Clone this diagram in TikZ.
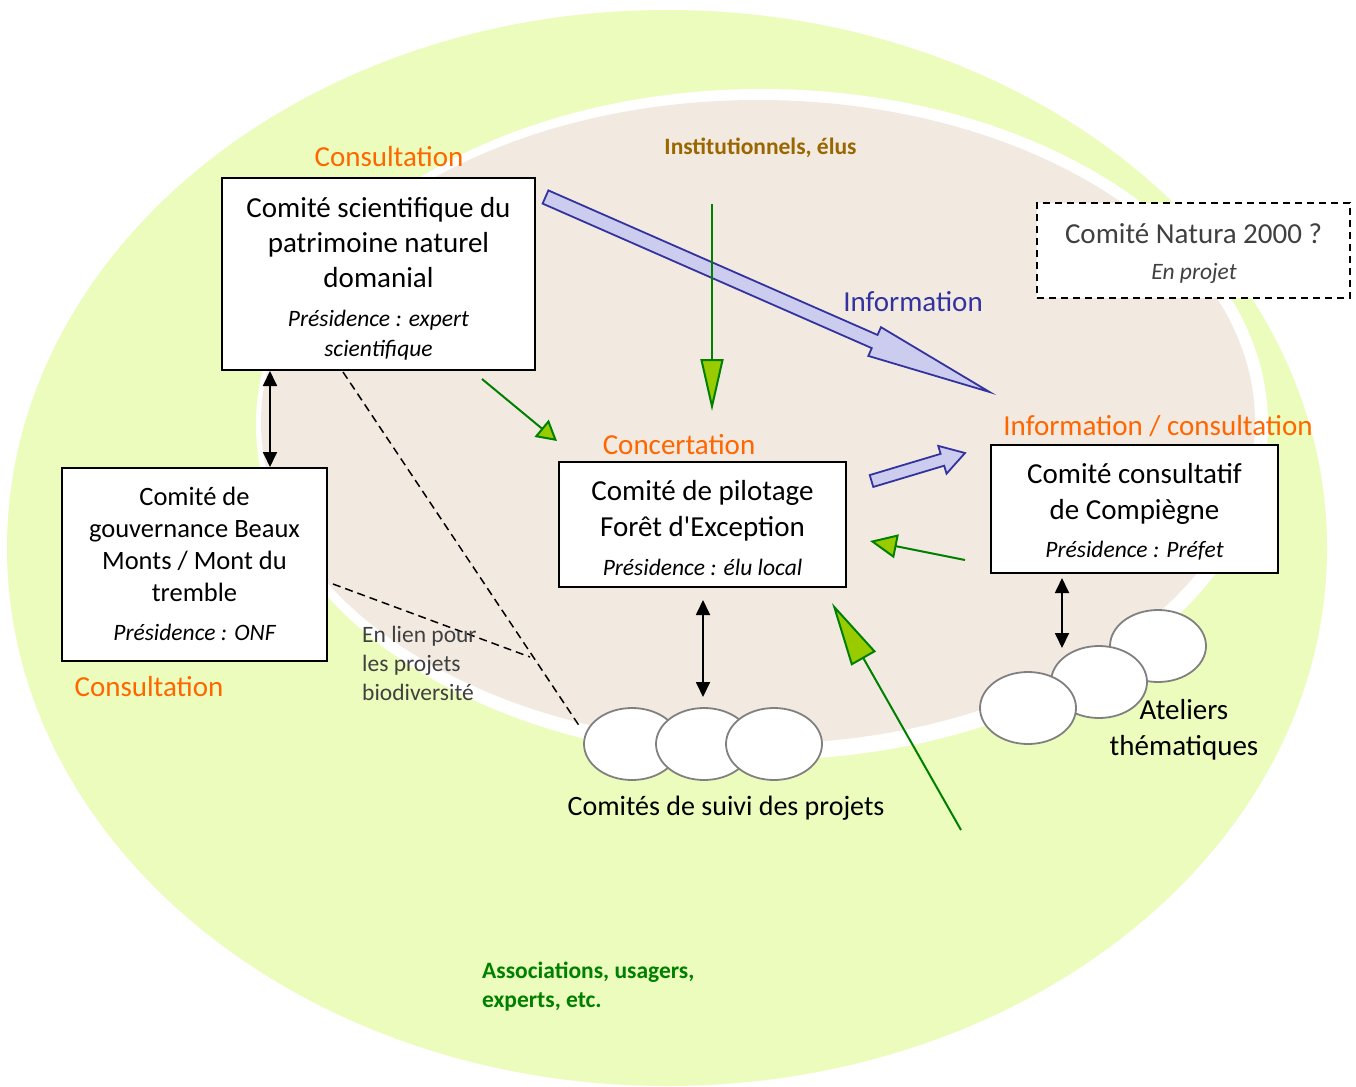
\documentclass[tikz,border=0pt]{standalone}
\usepackage{fontspec}
\setmainfont{Carlito}
\usetikzlibrary{arrows.meta,shapes.geometric}
\definecolor{limebg}{RGB}{236,252,188}
\definecolor{beigebg}{RGB}{242,234,225}
\definecolor{orangetxt}{RGB}{255,102,0}
\definecolor{bluefill}{RGB}{204,204,238}
\definecolor{blueline}{RGB}{51,51,160}
\definecolor{browntxt}{RGB}{153,102,0}
\definecolor{greentxt}{RGB}{0,128,0}
\definecolor{greenline}{RGB}{0,128,0}
\definecolor{headfill}{RGB}{153,204,0}
\definecolor{graytxt}{RGB}{64,64,64}
\definecolor{ellborder}{RGB}{128,128,128}
\begin{document}
\begin{tikzpicture}[x=1pt,y=-1pt,
  box/.style={draw=black,line width=1.8pt,fill=white,inner sep=0pt,rectangle},
  dbox/.style={draw=black,line width=1.8pt,fill=white,inner sep=0pt,rectangle,dash pattern=on 7pt off 5pt},
  txt/.style={anchor=base,inner sep=0pt},
  big/.style={txt,font=\fontsize{29}{35}\selectfont},
  mid/.style={txt,font=\fontsize{26.5}{32}\selectfont},
  ita/.style={txt,font=\fontsize{23.5}{29}\selectfont\itshape},
  lab/.style={txt,font=\fontsize{29}{35}\selectfont,text=orangetxt},
  twoway/.style={line width=1.8pt,{Triangle[length=15pt,width=14pt]}-{Triangle[length=15pt,width=14pt]}},
  greenarr/.style={draw=greenline,line width=2pt},
  blockarr/.style={draw=blueline,fill=bluefill,line width=1.8pt,line join=miter},
  ell/.style={ellipse,draw=ellborder,fill=white,line width=1.8pt,minimum width=96pt,minimum height=72pt,inner sep=0pt},
  dashline/.style={line width=1.5pt,dash pattern=on 8pt off 5pt}
]
% background and bounding box
\path[fill=white] (0,0) rectangle (1356,1086);
\useasboundingbox (0,0) rectangle (1356,1086);
% zones
\fill[limebg] (667,548) ellipse [x radius=660, y radius=538];
\fill[white] (762,424.5) ellipse [x radius=506, y radius=335.5];
\fill[beigebg] (758,422) ellipse [x radius=497, y radius=322];

% dashed links
\coordinate (d1a) at (343,372);
\coordinate (d1b) at (580,727);
\coordinate (d2a) at (333,584);
\coordinate (d2b) at (530,657);
\draw[dashline] (d1a) -- (d1b);
\draw[dashline] (d2a) -- (d2b);

% big blue "Information" arrow
\begin{scope}[shift={(545.5,197)},rotate=-23.71]
\draw[blockarr] (0,-7.2) -- (359.5,-7.2) -- (359.5,-15.7) -- (484.9,0) -- (359.5,15.7) -- (359.5,7.2) -- (0,7.2) -- cycle;
\end{scope}
% small blue arrow
\begin{scope}[shift={(871.5,481)},rotate=16.67]
\draw[blockarr] (0,-6.2) -- (74,-6.2) -- (74,-14.5) -- (97.6,0) -- (74,14.5) -- (74,6.2) -- (0,6.2) -- cycle;
\end{scope}

% green arrows
\coordinate (g1a) at (712,204);
\coordinate (g1b) at (712,411);
\coordinate (g2a) at (482,379);
\coordinate (g2b) at (557,441);
\coordinate (g3a) at (965,560);
\coordinate (g3b) at (870,541);
\coordinate (g4a) at (961,830);
\coordinate (g4b) at (832,603);
\draw[greenarr,-{Triangle[length=52pt,width=23pt,fill=headfill]}] (g1a) -- (g1b);
\draw[greenarr,-{Triangle[length=20pt,width=22pt,fill=headfill]}] (g2a) -- (g2b);
\draw[greenarr,-{Triangle[length=27pt,width=24pt,fill=headfill]}] (g3a) -- (g3b);
\draw[greenarr,-{Triangle[length=64pt,width=28pt,fill=headfill]}] (g4a) -- (g4b);

% boxes
\node (sci) [box,minimum width=313pt,minimum height=192pt] at (378.5,274) {};
\node (gov) [box,minimum width=265pt,minimum height=193pt] at (194.5,564.5) {};
\node (pil) [box,minimum width=287pt,minimum height=125pt] at (702.5,524.5) {};
\node (cons) [box,minimum width=287pt,minimum height=128pt] at (1134.5,509) {};
\node (nat) [dbox,minimum width=313pt,minimum height=95pt] at (1193.5,250.5) {};

% black two-way arrows
\coordinate (b1a) at (270,371);
\coordinate (b1b) at (270,467);
\coordinate (b2a) at (703,600);
\coordinate (b2b) at (703,697);
\coordinate (b3a) at (1062,578);
\coordinate (b3b) at (1062,648);
\draw[twoway] (b1a) -- (b1b);
\draw[twoway] (b2a) -- (b2b);
\draw[twoway] (b3a) -- (b3b);

% ellipses: comités de suivi
\node (s1) [ell] at (632,744) {};
\node (s2) [ell] at (704,744) {};
\node (s3) [ell] at (774,744) {};
% ellipses: ateliers
\node (e1) [ell] at (1158,646) {};
\node (e2) [ell] at (1099,682) {};
\node (e3) [ell] at (1028,708) {};

% box texts
\node (sci1) [big] at (378.5,217) {Comité scientifique du};
\node (sci2) [big] at (378.5,252) {patrimoine naturel};
\node (sci3) [big] at (378.5,287) {domanial};
\node (sci4) [ita] at (378.5,326) {Présidence : expert};
\node (sci5) [ita] at (378.5,356.5) {scientifique};

\node (gov1) [mid] at (194.5,505) {Comité de};
\node (gov2) [mid] at (194.5,537) {gouvernance Beaux};
\node (gov3) [mid] at (194.5,569.5) {Monts / Mont du};
\node (gov4) [mid] at (194.5,601.5) {tremble};
\node (gov5) [ita] at (194.5,640) {Présidence : ONF};

\node (pil1) [big] at (702.5,500) {Comité de pilotage};
\node (pil2) [big] at (702.5,536) {Forêt d\textquotesingle Exception};
\node (pil3) [ita] at (702.5,575) {Présidence : élu local};

\node (cons1) [big] at (1134.5,483.5) {Comité consultatif};
\node (cons2) [big] at (1134.5,519) {de Compiègne};
\node (cons3) [ita] at (1134.5,557) {Présidence : Préfet};

\node (nat1) [big,text=graytxt] at (1193.5,243.5) {Comité Natura 2000 ?};
\node (nat2) [ita,text=graytxt] at (1194,279.5) {En projet};

% labels
\node (l1) [lab] at (389,167) {Consultation};
\node (l2) [lab] at (679,454) {Concertation};
\node (l3) [lab] at (1158,435) {Information / consultation};
\node (l4) [lab] at (149,696) {Consultation};
\node (l5) [txt,font=\fontsize{29}{35}\selectfont,text=blueline] at (913,311.5) {Information};
\node (l6) [txt,font=\fontsize{23.5}{29}\selectfont\bfseries,text=browntxt] at (760.5,155) {Institutionnels, élus};
\node (l7) [txt,anchor=base west,font=\fontsize{23.5}{29}\selectfont\bfseries,text=greentxt] at (482,978.5) {Associations, usagers,};
\node (l8) [txt,anchor=base west,font=\fontsize{23.5}{29}\selectfont\bfseries,text=greentxt] at (482,1007.5) {experts, etc.};
\node (l9) [txt,anchor=base west,font=\fontsize{23.5}{29}\selectfont,text=graytxt] at (362,642.5) {En lien pour};
\node (l10) [txt,anchor=base west,font=\fontsize{23.5}{29}\selectfont,text=graytxt] at (362,671) {les projets};
\node (l11) [txt,anchor=base west,font=\fontsize{23.5}{29}\selectfont,text=graytxt] at (362,700) {biodiversité};
\node (l12) [txt,font=\fontsize{28}{34}\selectfont] at (726,815.5) {Comités de suivi des projets};
\node (l13) [big] at (1184,719.5) {Ateliers};
\node (l14) [big] at (1184,755) {thématiques};
\end{tikzpicture}
\end{document}
